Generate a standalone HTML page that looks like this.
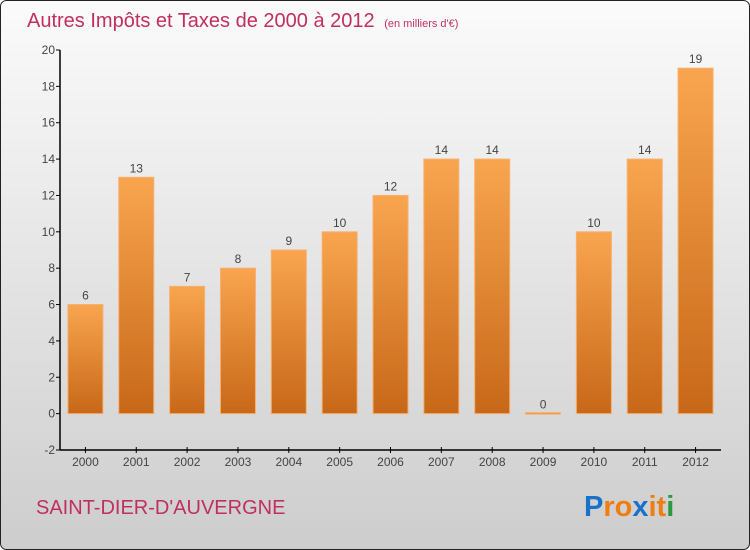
<!DOCTYPE html>
<html><head><meta charset="utf-8"><style>
body{margin:0;}
svg{display:block;font-family:"Liberation Sans",sans-serif;}
</style></head><body>
<svg id="c" width="750" height="550" viewBox="0 0 750 550">
<defs>
<linearGradient id="bg" x1="0" y1="0" x2="0" y2="1"><stop offset="0" stop-color="#fbfbfb"/><stop offset="1" stop-color="#cdcdcd"/></linearGradient>
<linearGradient id="bar" x1="0" y1="0" x2="0" y2="1"><stop offset="0" stop-color="#f9a54f"/><stop offset="1" stop-color="#c76818"/></linearGradient>
</defs>
<rect x="0.5" y="0.5" width="749" height="549" rx="6" fill="url(#bg)" stroke="#222"/>
<text x="27" y="27" font-size="20" fill="#c0305e">Autres Impôts et Taxes de 2000 à 2012 <tspan font-size="11" dx="4">(en milliers d'€)</tspan></text>
<text x="36" y="514" font-size="20" fill="#c0305e">SAINT-DIER-D'AUVERGNE</text>
<text x="584" y="516" font-size="29" font-weight="bold"><tspan fill="#1a72c8">P</tspan><tspan fill="#f07d10">ro</tspan><tspan fill="#1a72c8">x</tspan><tspan fill="#f07d10">it</tspan><tspan fill="#2a9a40">i</tspan></text>
<g id="plot"></g>
</svg>
<script>
const categories=["2000","2001","2002","2003","2004","2005","2006","2007","2008","2009","2010","2011","2012"];
const values=[6,13,7,8,9,10,12,14,14,0,10,14,19];
const yTicks=[-2,0,2,4,6,8,10,12,14,16,18,20];
const L=60,R=721,T=50,B=450,ymin=-2,ymax=20;
const y=v=>B-(v-ymin)/(ymax-ymin)*(B-T);
const band=(R-L)/categories.length;
const xc=i=>L+band*(i+0.5);
const g=document.getElementById('plot');
const NS='http://www.w3.org/2000/svg';
function mk(t,a){const e=document.createElementNS(NS,t);for(const k in a)e.setAttribute(k,a[k]);g.appendChild(e);return e;}
yTicks.forEach(v=>{
 const l=mk('line',{x1:L-4,x2:L,y1:y(v),y2:y(v),stroke:'#000'});
 
 
 const t=mk('text',{x:L-5,y:y(v)+4,'text-anchor':'end','font-size':12,fill:'#444'});
 t.textContent=v;
 
 
});
values.forEach((v,i)=>{
 const w=35,x=xc(i)-w/2,top=Math.min(y(v),y(0)),h=Math.max(Math.abs(y(0)-y(v)),1.5);
 const r=mk('rect',{x:x,y:v===0?y(0)-1:top,width:w,height:h,fill:'url(#bar)',stroke:'#f6b070','stroke-width':1});
 
 
 const t=mk('text',{x:xc(i),y:y(v)-5,'text-anchor':'middle','font-size':12,fill:'#444'});
 t.textContent=v;
 
 
 const k=mk('line',{x1:xc(i),x2:xc(i),y1:B-3,y2:B+3,stroke:'#000'});
 
 
 const c=mk('text',{x:xc(i),y:B+16,'text-anchor':'middle','font-size':12,fill:'#444'});
 c.textContent=categories[i];
 
 
});
const ya=mk('line',{x1:L,x2:L,y1:T,y2:B,stroke:'#000','stroke-width':1.5});


const xa=mk('line',{x1:L,x2:R,y1:B,y2:B,stroke:'#000','stroke-width':1.5});


</script>
</body></html>
